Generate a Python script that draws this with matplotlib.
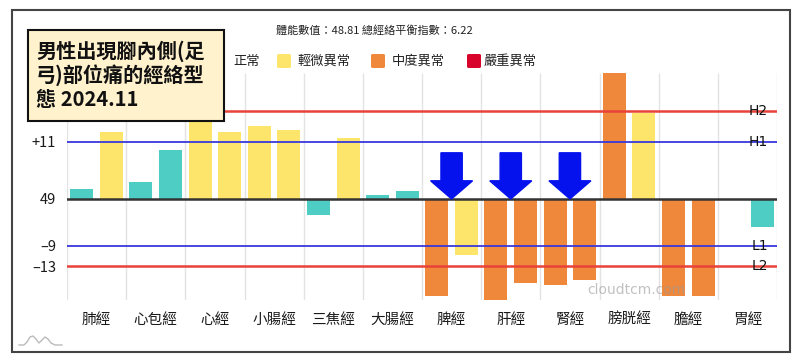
import matplotlib.pyplot as plt
from matplotlib.patches import Rectangle, FancyBboxPatch
import numpy as np

plt.rcParams['font.family'] = ['Noto Sans CJK TC', 'DejaVu Sans']

# 經絡名稱
meridians = ['肺經', '心包經', '心經', '小腸經', '三焦經', '大腸經',
             '脾經', '肝經', '腎經', '膀胱經', '膽經', '胃經']
# 與平均值 49 的差 (左 / 右)
left_vals = [2.0, 3.2, 15.5, 14.1, -3.1, 0.8, -18.7, -19.5, -16.7, 24.3, -18.8, 0.0]
right_vals = [12.9, 9.5, 12.9, 13.3, 11.8, 1.6, -10.8, -16.3, -15.7, 16.5, -18.8, -5.5]

# 參考線
H2, H1, L1, L2 = 17, 11, -9, -13
ytick_vals = [11, 0, -9, -13]
ytick_labels = ['+11', '49', '–9', '–13']
arrow_at = ['脾經', '肝經', '腎經']

title_lines = ['男性出現腳內側(足', '弓)部位痛的經絡型', '態 2024.11']
info_text = '體能數值：48.81 總經絡平衡指數：6.22'
legend_names = ['正常', '輕微異常', '中度異常', '嚴重異常']

TEAL = '#4ECDC4'
YELLOW = '#FDE46A'
ORANGE = '#F0883C'
RED = '#D9042B'
legend_colors = [TEAL, YELLOW, ORANGE, RED]


def farbe(v):
    if L1 <= v <= H1:
        return TEAL
    if L2 <= v <= H2:
        return YELLOW
    return ORANGE


fig = plt.figure(figsize=(8, 3.64), dpi=100)
W, H = 800, 364


def fx(px):
    return px / W


def fy(py):
    return 1 - py / H


ax = fig.add_axes([fx(67), fy(300), fx(777) - fx(67), fy(73) - fy(300)])
x = np.arange(len(meridians))
bw = 0.39
ax.bar(x - 0.25, left_vals, bw, color=[farbe(v) for v in left_vals], zorder=2)
ax.bar(x + 0.25, right_vals, bw, color=[farbe(v) for v in right_vals], zorder=2)

ax.set_xlim(-0.5, len(meridians) - 0.5)
ax.set_ylim(-19.5, 24.3)
ax.vlines(np.arange(-0.5, len(meridians) + 0.5, 1), -19.5, 24.3,
          color='#e3e3e3', lw=1, zorder=1)

ax.axhline(H2, color='#E8423A', lw=1.8, zorder=3)
ax.axhline(L2, color='#E8423A', lw=1.8, zorder=3)
ax.axhline(H1, color='#3838DD', lw=1.3, zorder=3)
ax.axhline(L1, color='#3838DD', lw=1.3, zorder=3)
ax.axhline(0, color='#333333', lw=1.8, zorder=3)

for name, yv in [('H2', H2), ('H1', H1), ('L1', L1), ('L2', L2)]:
    ax.text(11.35, yv, name, ha='right', va='center', fontsize=10,
            family='DejaVu Sans', color='#111', zorder=4)

for m in arrow_at:
    i = meridians.index(m)
    ax.arrow(i, 8.9, 0, -8.9, width=0.36, head_width=0.71, head_length=3.5,
             length_includes_head=True, color='#0512EE', zorder=5)

ax.set_yticks(ytick_vals)
ax.set_yticklabels(ytick_labels, fontsize=10.5, color='#1a1a1a')
ax.set_xticks(x)
ax.set_xticklabels(meridians, fontsize=10.5, color='#1a1a1a')
ax.tick_params(length=0)
ax.tick_params(axis='x', pad=9)
ax.tick_params(axis='y', pad=8)
for s in ax.spines.values():
    s.set_visible(False)

# 外框
fig.patches.append(Rectangle((fx(12), fy(352)), fx(790) - fx(12), fy(10) - fy(352),
                             transform=fig.transFigure, fill=False,
                             ec='#444', lw=1.5, zorder=0))

# 上方資訊
fig.text(fx(374), fy(31), info_text, ha='center', va='center', fontsize=8, color='#222')

# 圖例
sq_x = [211, 277, 371, 467]
tx_x = [233, 298, 392, 484]
for c, n, sx, tx in zip(legend_colors, legend_names, sq_x, tx_x):
    fig.patches.append(FancyBboxPatch((fx(sx), fy(68)), fx(14), 14 / H,
                                      boxstyle='round,pad=0,rounding_size=0.003',
                                      transform=fig.transFigure, fc=c, ec='none', zorder=3))
    fig.text(fx(tx), fy(61), n, ha='left', va='center', fontsize=9.5, color='#222', zorder=3)

# 標題框
fig.patches.append(Rectangle((fx(28), fy(121)), fx(224) - fx(28), fy(30) - fy(121),
                             transform=fig.transFigure, fc='#FFF2CC', ec='#111',
                             lw=1.5, zorder=6))
for k, line in enumerate(title_lines):
    fig.text(fx(36), fy(51 + 24 * k), line, ha='left', va='center', fontsize=14.5,
             fontweight='bold', color='#111', zorder=7)

# 浮水印
fig.text(fx(636), fy(290), 'cloudtcm.com', ha='center', va='center', fontsize=10,
         color='#999999', alpha=0.6, family='DejaVu Sans', zorder=8)

# 小標誌
lx = np.array([19, 24, 27, 30, 33, 36, 39, 42, 45, 48, 51, 55, 62])
ly = np.array([345, 345, 342, 337, 336, 339, 343, 340, 337, 339, 343, 345, 345])
fig.lines.append(plt.Line2D(fx(lx), fy(ly), transform=fig.transFigure,
                            color='#bbbbbb', lw=1))

fig.savefig('out.png', dpi=100, facecolor='white')
